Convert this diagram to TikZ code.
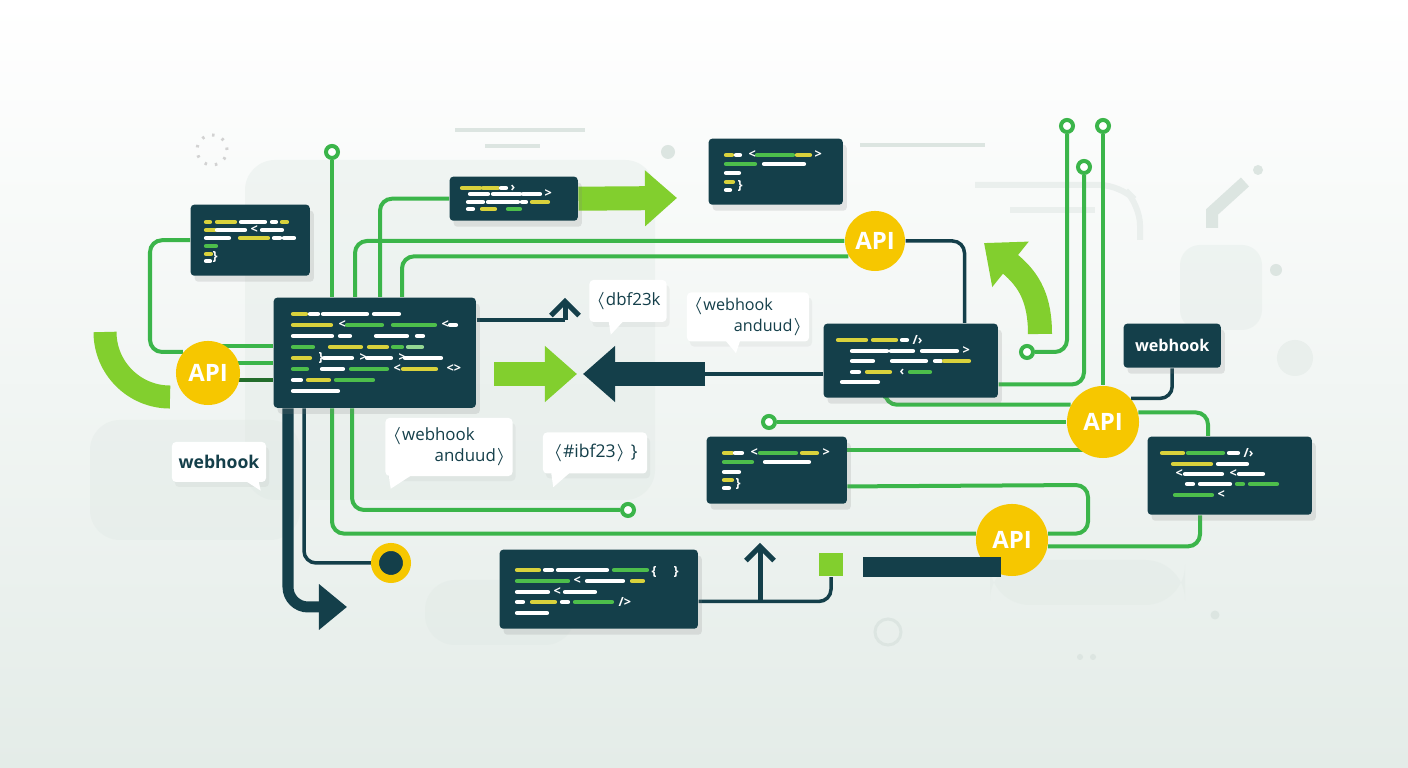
\documentclass[tikz,border=0pt]{standalone}
\usepackage{fontspec}
\setmainfont{Open Sans}
\usetikzlibrary{positioning, arrows.meta, shadows, calc}
\definecolor{mydark}{HTML}{143F4A}
\definecolor{mygreen}{HTML}{3BB54A}
\definecolor{mylime}{HTML}{82CF2E}
\definecolor{myyellow}{HTML}{F6C700}
\definecolor{codeyel}{HTML}{D9D23C}
\definecolor{codegrn}{HTML}{4DBE4B}
\definecolor{bgpale}{HTML}{E4ECE8}
\definecolor{bgshape}{HTML}{DFE8E4}
\definecolor{bgline}{HTML}{DCE5E1}
\pgfdeclarelayer{back}
\pgfdeclarelayer{wires}
\pgfsetlayers{back,wires,main}
\newcommand{\codelines}[2]{%
  \foreach \dx/\dy/\len/\col in {#2}
    \draw[codeln, draw=\col] ($(#1.north west)+(\dx,\dy)$) -- ++(\len,0);}
\newcommand{\codeglyphs}[2]{%
  \foreach \dx/\dy/\g in {#2}
    \node[glyph] at ($(#1.north west)+(\dx,\dy)$) {\g};}

\begin{document}
\begin{tikzpicture}[x=0.01cm, y=-0.01cm,
    codebox/.style={rectangle, fill=mydark, rounded corners=0.35mm, anchor=north west, inner sep=0pt,
      drop shadow={opacity=0.18, shadow xshift=0.4mm, shadow yshift=-0.6mm}},
    codeln/.style={line width=0.42mm, line cap=round},
    glyph/.style={text=white, font=\bfseries\fontsize{3.6}{3.6}\selectfont, inner sep=0pt, anchor=west},
    api/.style={circle, fill=myyellow, text=white, font=\bfseries\fontsize{6.8}{6.8}\selectfont, inner sep=0pt},
    ring/.style={circle, draw=mygreen, line width=0.4mm, fill=white, minimum size=1.2mm, inner sep=0pt},
    gline/.style={draw=mygreen, line width=0.4mm, rounded corners=1.2mm},
    dline/.style={draw=mydark, line width=0.35mm, rounded corners=1.2mm},
    bubble/.style={rectangle, fill=white, rounded corners=0.4mm, text=mydark, inner sep=0pt, align=left,
      font=\fontsize{4.8}{4.9}\selectfont,
      drop shadow={opacity=0.08, shadow xshift=0.3mm, shadow yshift=-0.5mm}},
    fatarrow/.style={line width=2.4mm, -{Triangle[length=3.2mm, width=5.4mm]}},
    barb/.style={draw=mydark, line width=0.5mm, -{Straight Barb[length=1.4mm, width=2.8mm]}},
]
\useasboundingbox (0,0) rectangle (1408,768);

% background
\begin{pgfonlayer}{back}
  \shade[top color=white, bottom color=bgpale] (0,0) rectangle (1408,768);
  \begin{scope}[opacity=0.35]
  \fill[bgshape, rounded corners=3mm] (245,160) rectangle (655,500);
  \fill[bgshape, rounded corners=3mm] (90,420) rectangle (300,540);
  \fill[bgshape, rounded corners=2mm] (1180,245) rectangle (1262,330);
  \fill[bgshape, rounded corners=4mm] (990,560) rectangle (1185,605);
  \fill[bgshape, rounded corners=3mm] (425,580) rectangle (575,645);
  \end{scope}
  \fill[bgshape!70] (1295,358) circle[radius=1.8mm];
  \draw[bgline, line width=0.3mm] (888,632) circle[radius=1.3mm];
  \draw[bgline, line width=0.35mm] (455,130) -- (585,130) (485,146) -- (540,146) (860,145) -- (985,145);
  \draw[bgline!60, line width=0.6mm, rounded corners=2mm] (975,185) -- (1120,185) -- (1140,205) -- (1140,240);
  \draw[bgline!60, line width=0.6mm] (1010,210) -- (1095,210);
  \draw[bgline, line width=1.2mm] (1212,228) -- (1212,212) -- (1245,182);
  \fill[bgline] (668,152) circle[radius=0.7mm] (1258,170) circle[radius=0.5mm]
    (1276,270) circle[radius=0.6mm] (1215,615) circle[radius=0.45mm]
    (1080,657) circle[radius=0.3mm] (1093,657) circle[radius=0.3mm];
  \draw[gray!35, line width=0.3mm, dash pattern=on 0.25mm off 0.8mm] (212,150) circle[radius=1.5mm];
\end{pgfonlayer}

% code boxes
\node[codebox, minimum width=1.19cm, minimum height=0.71cm] (b1) at (190,204) {};
\node[codebox, minimum width=2.02cm, minimum height=1.10cm] (main) at (273,297) {};
\node[codebox, minimum width=1.28cm, minimum height=0.44cm] (b3) at (449,176) {};
\node[codebox, minimum width=1.34cm, minimum height=0.66cm] (b4) at (708,138) {};
\node[codebox, minimum width=1.74cm, minimum height=0.74cm] (b5) at (823,323) {};
\node[codebox, minimum width=1.40cm, minimum height=0.67cm] (b6) at (706,436) {};
\node[codebox, minimum width=1.64cm, minimum height=0.78cm] (b7) at (1147,436) {};
\node[codebox, minimum width=1.98cm, minimum height=0.79cm] (b8) at (499,549) {};
\node[codebox, minimum width=0.97cm, minimum height=0.44cm, text=white,
  font=\bfseries\fontsize{4.6}{5}\selectfont] (hook) at (1123,323) {webhook};

\codelines{b1}{16/18/4/codeyel, 27/18/18/codeyel, 51/18/24/white, 82/18/4/white, 92/18/5/codeyel,
  16/26/9/codeyel, 27/26/28/white, 72/26/20/white,
  16/34/23/white, 50/34/28/codeyel, 84/34/6/white, 94/34/10/white,
  16/42/10/codegrn, 16/50/5/codeyel, 16/57/4/white}
\codeglyphs{b1}{60/26/<, 22/53/\}}
\codelines{main}{20/17/13/codeyel, 37/17/8/white, 50/17/44/white, 101/17/25/white,
  20/28/38/codeyel, 74/28/35/codegrn, 120/28/42/codegrn, 177/28/6/white,
  20/39/39/white, 67/39/10/white, 103/39/31/white, 144/39/6/white,
  20/50/20/codegrn, 57/50/31/codeyel, 96/50/18/codeyel, 120/50/9/codegrn, 135/50/14/codegrn!60,
  20/61/17/codeyel, 51/61/28/white, 94/61/24/white, 132/61/36/white,
  20/72/14/codegrn, 49/72/21/white, 78/72/36/codegrn, 130/72/33/codeyel,
  20/83/8/white, 35/83/21/codeyel, 63/83/37/codegrn,
  20/94/45/white}
\codeglyphs{main}{65/28/<, 168/28/<, 45/61/\}, 86/61/>, 125/61/>, 120/72/<, 173/72/<>}
\codelines{b3}{13/12/18/codeyel, 34/12/15/codeyel, 52/12/5/white,
  21/18/18/white, 44/18/27/white, 74/18/17/white,
  19/26/15/white, 39/26/30/white, 73/26/4/white, 83/26/16/codeyel,
  19/33/5/white, 33/33/13/codeyel, 59/33/12/codegrn}
\codeglyphs{b3}{61/12/›, 95/18/>}
\codelines{b4}{18/17/6/codeyel, 28/17/4/white, 49/17/36/codegrn, 89/17/13/codeyel,
  18/26/29/codegrn, 56/26/40/white,
  18/35/13/white, 18/44/7/codeyel, 18/52/4/white}
\codeglyphs{b4}{40/17/<, 106/17/>, 29/48/\}}
\codelines{b6}{18/17/8/codeyel, 29/17/7/white, 54/17/36/codegrn, 96/17/15/codeyel,
  18/26/28/codegrn, 59/26/44/white,
  18/36/15/white, 18/44/8/codeyel, 18/52/5/white}
\codeglyphs{b6}{44/17/<, 116/17/>, 29/48/\}}
\codelines{b5}{15/17/28/codeyel, 50/17/23/codeyel, 79/17/5/white,
  29/28/35/white, 68/28/22/white, 99/28/35/white,
  29/38/21/white, 69/38/34/white, 112/38/6/white, 121/38/25/codeyel,
  29/49/7/white, 44/49/23/codeyel, 87/49/20/codegrn,
  19/59/36/white}
\codeglyphs{b5}{89/17/{/›}, 139/28/>, 76/49/‹}
\codelines{b7}{15/17/21/codeyel, 41/17/35/codegrn, 82/17/9/white,
  26/28/38/codeyel, 71/28/29/white,
  38/38/37/white, 92/38/24/white,
  40/48/6/white, 53/48/30/white, 90/48/6/codegrn, 103/48/27/codegrn,
  28/59/37/codegrn}
\codeglyphs{b7}{96/17/{/›}, 28/38/<, 82/38/<, 70/59/<}
\codelines{b8}{18/21/22/codeyel, 46/21/7/white, 59/21/49/white, 115/21/33/codegrn,
  18/32/51/codegrn, 88/32/36/white, 133/32/11/codeyel,
  18/43/31/white, 66/43/30/white,
  18/53/6/white, 33/53/23/codeyel, 63/53/6/white, 76/53/37/codegrn,
  18/64/30/white}
\codeglyphs{b8}{152/23/\{, 174/23/\}, 74/32/<, 54/43/<, 119/53/{/>}}

% API hubs, rings and small marks
\node[api, minimum size=6.4mm] (a0) at (208,373) {API};
\node[api, minimum size=6.0mm] (a1) at (875,241) {API};
\node[api, minimum size=7.2mm] (a2) at (1103,422) {API};
\node[api, minimum size=7.2mm] (a3) at (1012,540) {API};
\node[ring] (r1) at (332,152) {};
\node[ring] (r2) at (628,510) {};
\node[ring] (r3) at (769,422) {};
\node[ring] (r4) at (1067,126) {};
\node[ring] (r5) at (1103,126) {};
\node[ring] (r6) at (1084,167) {};
\node[ring] (r7) at (1027,352) {};
\node[circle, fill=mydark, draw=myyellow, line width=0.8mm, minimum size=3.2mm, inner sep=0pt] (dot) at (391,563) {};
\node[fill=mylime, minimum size=2.3mm, inner sep=0pt] (sq) at (831,565) {};
\node[fill=mydark, minimum width=1.38cm, minimum height=0.2cm, inner sep=0pt, anchor=west] (bar) at (862,567) {};

% speech bubbles
\node[bubble, minimum width=0.77cm, minimum height=0.42cm] (t1) at (628,301) {$\langle$dbf23k};
\node[bubble, minimum width=1.22cm, minimum height=0.49cm, font=\fontsize{4.6}{4.8}\selectfont] (t2) at (748,317) {$\langle$webhook\\\hspace*{4.1mm}anduud$\rangle$};
\node[bubble, minimum width=1.27cm, minimum height=0.58cm] (t3) at (449,447) {$\langle$webhook\\\hspace*{4.3mm}anduud$\rangle$};
\node[bubble, minimum width=1.04cm, minimum height=0.41cm, font=\fontsize{5}{5}\selectfont] (t4) at (595,453) {$\langle$\#ibf23$\rangle$ \}};
\node[bubble, minimum width=0.94cm, minimum height=0.40cm, font=\bfseries\fontsize{5}{5}\selectfont] (t5) at (219,462) {webhook};
\fill[white] ($(t1.south west)+(20,-1)$) -- ($(t1.south west)+(22,12)$) -- ($(t1.south west)+(34,-1)$) -- cycle;
\fill[white] ($(t2.south)+(-22,-1)$) -- ($(t2.south)+(-12,11)$) -- ($(t2.south)+(-8,-1)$) -- cycle;
\fill[white] ($(t3.south west)+(4,-1)$) -- ($(t3.south west)+(6,12)$) -- ($(t3.south west)+(26,-1)$) -- cycle;
\fill[white] ($(t4.south west)+(9,-1)$) -- ($(t4.south west)+(11,13)$) -- ($(t4.south west)+(27,-1)$) -- cycle;
\fill[white] ($(t5.south east)+(-20,-1)$) -- ($(t5.south east)+(-6,8)$) -- ($(t5.south east)+(-8,-1)$) -- cycle;

% connectors
\coordinate (tip1) at (347,607);
\coordinate (tip2) at (677,198);
\coordinate (la1) at (494,374);
\coordinate (tip3) at (577,374);
\coordinate (da1) at (705,374);
\coordinate (tip4) at (583,374);
\coordinate (ca1) at (1040,334);
\coordinate (tip5) at (984,243);
\coordinate (la2) at (105,332);
\coordinate (up1) at (565,298);
\coordinate (up2) at (760,543);
\coordinate (j1) at (1088,485);
\begin{pgfonlayer}{wires}
  \draw[gline] (r1) -- (r1 |- main.north);
  \draw[gline] (b3.west) -| ($(main.north west)+(107,0)$);
  \draw[gline] (a1) -| ($(main.north west)+(82,0)$);
  \draw[gline] ($(main.north west)+(129,0)$) |- (a1.210);
  \draw[dline] (a1) -| ($(b5.north east)+(-34,0)$);
  \draw[gline] (b1.west) -- ++(-40,0) |- (a0.140);
  \foreach \dy/\col in {-27/mygreen, -10/mygreen, 7/mygreen!60!black} {
    \path (a0) ++(0,\dy) coordinate (p);
    \draw[gline, draw=\col] (p) -- (p -| main.west);
  }
  \draw[gline] ($(main.south west)+(59,0)$) |- (a3.170);
  \draw[gline] ($(main.south west)+(79,0)$) |- (r2);
  \draw[dline] ($(main.south west)+(31,0)$) |- (dot);
  \draw[mydark, line width=1.1mm, rounded corners=2mm, -{Triangle[length=2.8mm, width=4.4mm]}]
    ($(main.south west)+(15,0)$) |- (tip1);
  \path ($(main.north east)+(0,23)$) coordinate (p1);
  \draw[dline] (p1) -- (p1 -| up1);
  \draw[barb] (p1 -| up1) -- (up1);
  \draw[fatarrow, mylime] (b3.east) -- (tip2);
  \draw[fatarrow, mylime] (la1) -- (tip3);
  \draw[dline] (da1) -- (da1 -| b5.west);
  \draw[fatarrow, mydark] (da1) -- (tip4);
  \draw[mylime, line width=2.4mm, -{Triangle[length=3.4mm, width=5.6mm]}]
    (ca1) .. controls (1040,300) and (1030,280) .. (tip5);
  \draw[mylime, line width=2.3mm] (la2) arc[start angle=180, end angle=270, radius=6.5mm];
  \draw[gline] (r4) |- (r7);
  \draw[gline] (r6) |- ($(b5.south east)+(0,-14)$);
  \draw[gline] (r5) -- (a2);
  \draw[gline] ($(b5.south west)+(62,0)$) |- (a2.152);
  \draw[dline] (hook.south) |- (a2.40);
  \draw[gline] (a2.15) -| ($(b7.north west)+(61,0)$);
  \draw[gline] (r3) -- (a2);
  \path ($(b6.north east)+(0,14)$) coordinate (p6a);
  \draw[gline] (p6a) -- (p6a -| a2);
  \path ($(b6.south east)+(0,-18)$) coordinate (p6b);
  \draw[gline] (p6b) -- (j1) |- (a3.10);
  \draw[gline] ($(b7.south west)+(53,0)$) |- (a3.-10);
  \path ($(b8.south east)+(0,-28)$) coordinate (p8);
  \draw[dline] (p8) -| (sq.south);
  \draw[barb] (p8 -| up2) -- (up2);
\end{pgfonlayer}
\end{tikzpicture}
\end{document}
